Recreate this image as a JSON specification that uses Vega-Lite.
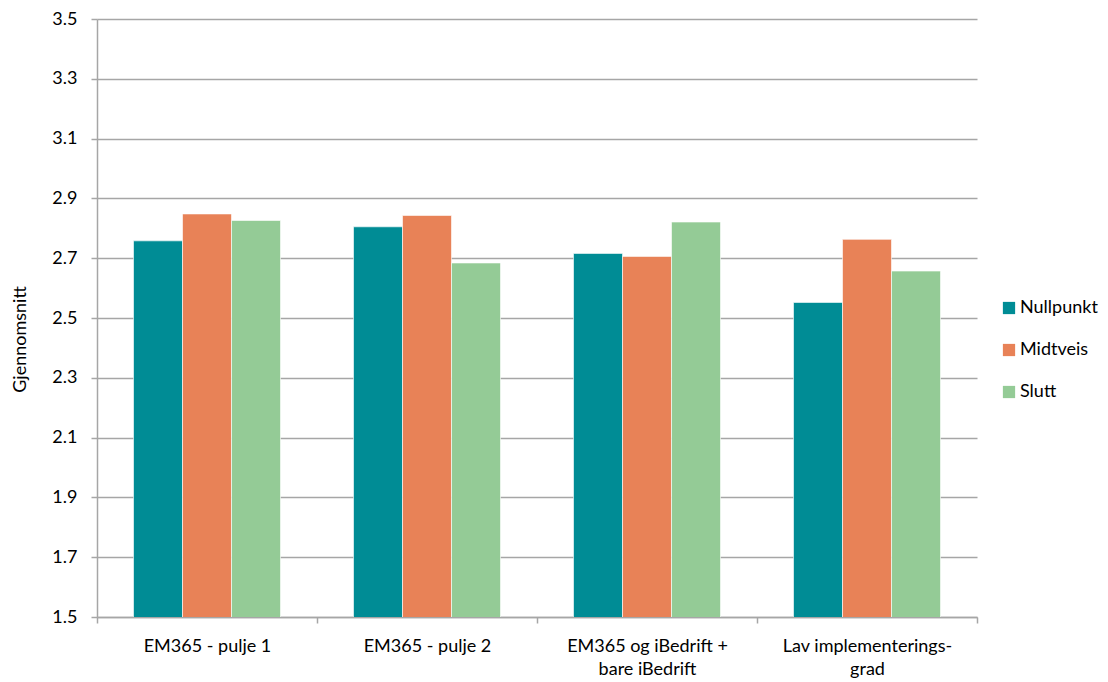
{
  "$schema": "https://vega.github.io/schema/vega-lite/v6.json",
  "width": 880,
  "height": 598,
  "autosize": "none",
  "padding": {"left": 97, "top": 19, "right": 131, "bottom": 65},
  "background": "white",
  "config": {
    "font": "Lato",
    "view": {"stroke": null},
    "axis": {"labelFont": "Lato", "titleFont": "Lato", "labelColor": "#000000", "titleColor": "#000000"},
    "legend": {"labelFont": "Lato"}
  },
  "data": {
    "values": [
      {"gruppe": "EM365 - pulje 1", "maling": "Nullpunkt", "snitt": 2.758},
      {"gruppe": "EM365 - pulje 1", "maling": "Midtveis", "snitt": 2.848},
      {"gruppe": "EM365 - pulje 1", "maling": "Slutt", "snitt": 2.826},
      {"gruppe": "EM365 - pulje 2", "maling": "Nullpunkt", "snitt": 2.805},
      {"gruppe": "EM365 - pulje 2", "maling": "Midtveis", "snitt": 2.843},
      {"gruppe": "EM365 - pulje 2", "maling": "Slutt", "snitt": 2.684},
      {"gruppe": "EM365 og iBedrift + bare iBedrift", "maling": "Nullpunkt", "snitt": 2.716},
      {"gruppe": "EM365 og iBedrift + bare iBedrift", "maling": "Midtveis", "snitt": 2.706},
      {"gruppe": "EM365 og iBedrift + bare iBedrift", "maling": "Slutt", "snitt": 2.821},
      {"gruppe": "Lav implementerings-grad", "maling": "Nullpunkt", "snitt": 2.552},
      {"gruppe": "Lav implementerings-grad", "maling": "Midtveis", "snitt": 2.763},
      {"gruppe": "Lav implementerings-grad", "maling": "Slutt", "snitt": 2.657}
    ]
  },
  "mark": {"type": "bar", "clip": true, "stroke": "#ffffff", "strokeWidth": 1, "strokeOpacity": 0.6},
  "encoding": {
    "x": {
      "field": "gruppe",
      "type": "nominal",
      "sort": null,
      "title": null,
      "scale": {"paddingInner": 0, "paddingOuter": 0},
      "axis": {
        "labelAngle": 0,
        "labelFontSize": 18,
        "labelPadding": 14,
        "labelLineHeight": 23,
        "labelBaseline": "top",
        "labelExpr": "datum.label == 'EM365 og iBedrift + bare iBedrift' ? ['EM365 og iBedrift +', 'bare iBedrift'] : datum.label == 'Lav implementerings-grad' ? ['Lav implementerings-', 'grad'] : datum.label",
        "tickBand": "extent",
        "tickSize": 6,
        "tickColor": "#a6a6a6",
        "tickWidth": 1.5,
        "domainColor": "#a6a6a6",
        "domainWidth": 1.5,
        "grid": false
      }
    },
    "xOffset": {
      "field": "maling",
      "type": "nominal",
      "sort": ["Nullpunkt", "Midtveis", "Slutt"],
      "scale": {"paddingInner": 0, "paddingOuter": 0.745}
    },
    "y": {
      "field": "snitt",
      "type": "quantitative",
      "title": "Gjennomsnitt",
      "scale": {"domain": [1.5, 3.5], "zero": false, "nice": false},
      "axis": {
        "values": [1.5, 1.7, 1.9, 2.1, 2.3, 2.5, 2.7, 2.9, 3.1, 3.3, 3.5],
        "format": ".1f",
        "labelFontSize": 18,
        "labelPadding": 14,
        "tickSize": 6,
        "tickColor": "#a6a6a6",
        "tickWidth": 1.5,
        "domainColor": "#a6a6a6",
        "domainWidth": 1.5,
        "grid": true,
        "gridColor": "#a6a6a6",
        "gridWidth": 1.5,
        "titleFontSize": 18,
        "titleFontWeight": "normal",
        "titleAngle": -90,
        "titleX": -77,
        "titleY": 320,
        "titleAlign": "center",
        "titleBaseline": "middle"
      }
    },
    "color": {
      "field": "maling",
      "type": "nominal",
      "sort": ["Nullpunkt", "Midtveis", "Slutt"],
      "title": null,
      "scale": {"domain": ["Nullpunkt", "Midtveis", "Slutt"], "range": ["#008c95", "#e88257", "#94cb96"]},
      "legend": {
        "orient": "none",
        "legendX": 903,
        "legendY": 280,
        "symbolType": "square",
        "symbolSize": 150,
        "symbolStrokeWidth": 0,
        "labelFontSize": 18,
        "labelOffset": 2,
        "rowPadding": 24,
        "labelColor": "#000000"
      }
    }
  }
}
